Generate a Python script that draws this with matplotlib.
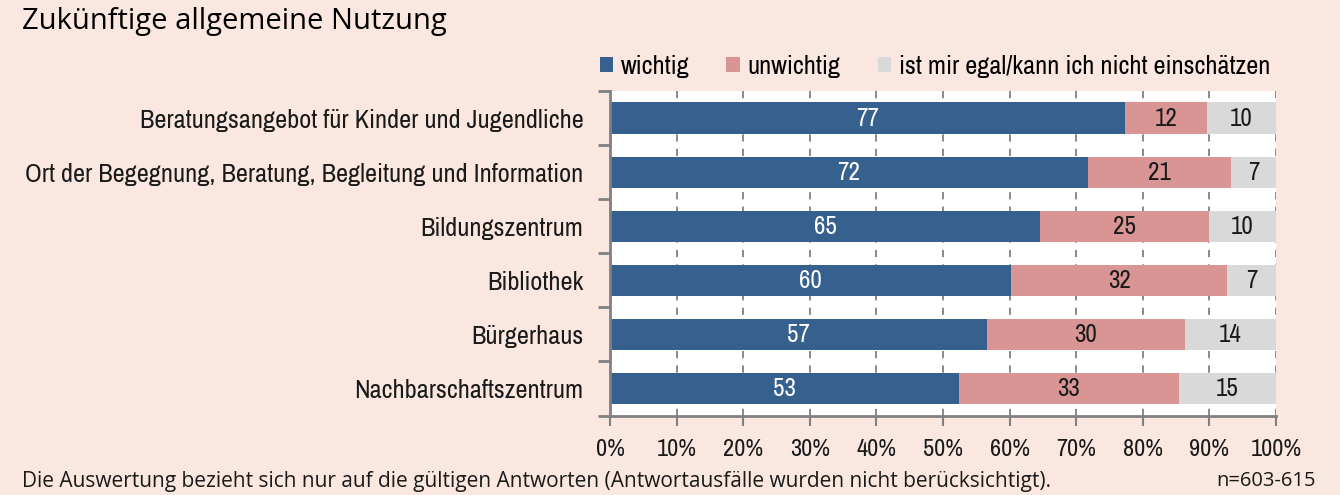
import matplotlib.pyplot as plt
from matplotlib import font_manager
import numpy as np

categories = [
    "Beratungsangebot für Kinder und Jugendliche",
    "Ort der Begegnung, Beratung, Begleitung und Information",
    "Bildungszentrum",
    "Bibliothek",
    "Bürgerhaus",
    "Nachbarschaftszentrum",
]
series_names = ["wichtig", "unwichtig", "ist mir egal/kann ich nicht einschätzen"]
# bar shares in percent
wichtig = [77.3, 71.8, 64.6, 60.2, 56.6, 52.4]
unwichtig = [12.3, 21.5, 25.3, 32.5, 29.7, 33.0]
egal = [10.4, 6.7, 10.1, 7.3, 13.7, 14.6]
# printed labels
wichtig_lbl = [77, 72, 65, 60, 57, 53]
unwichtig_lbl = [12, 21, 25, 32, 30, 33]
egal_lbl = [10, 7, 10, 7, 14, 15]
x_ticks = [0, 10, 20, 30, 40, 50, 60, 70, 80, 90, 100]

colors = ["#36618F", "#D99594", "#D9D9D9"]
bg = "#F9E7E0"

# look for a condensed face, the reference uses a narrow font
cond = [f for f in font_manager.fontManager.ttflist
        if ("Condensed" in f.name or "Narrow" in f.name) and f.style == "normal"]
dv_cond = [f for f in font_manager.fontManager.ttflist
           if f.name == "DejaVu Sans" and f.stretch == "condensed" and f.style == "normal"]
if cond:
    nfont = dict(family=[cond[0].name, "DejaVu Sans"])
    nsize = 19
elif dv_cond:
    nfont = dict(family=["DejaVu Sans"], stretch="condensed")
    nsize = 16
else:
    nfont = dict(family=["Roboto", "DejaVu Sans"])
    nsize = 15.5

fig = plt.figure(figsize=(13.4, 4.95), dpi=100, facecolor=bg)
ax = fig.add_axes([610 / 1340, 1 - 415.5 / 495, 666 / 1340, 324.5 / 495])
ax.set_facecolor("white")

y = np.arange(len(categories))
left = np.zeros(len(categories))
for vals, lbls, col, name in zip([wichtig, unwichtig, egal],
                                 [wichtig_lbl, unwichtig_lbl, egal_lbl],
                                 colors, series_names):
    vals = np.array(vals)
    ax.barh(y, vals, left=left, height=0.575, color=col, label=name, zorder=2)
    tcol = "white" if col == colors[0] else "#1a1a1a"
    for yi, l, v, t in zip(y, left, vals, lbls):
        ax.text(l + v / 2, yi, str(t), ha="center", va="center", color=tcol,
                fontsize=nsize - 1, zorder=3, **nfont)
    left = left + vals

ax.set_xlim(0, 100)
ax.set_ylim(5.5, -0.5)
ax.set_xticks(x_ticks)
ax.set_xticklabels([f"{t}%" for t in x_ticks], fontsize=nsize - 1.5, color="#1a1a1a", **nfont)
ax.xaxis.grid(True, linestyle=(0, (4, 4)), color="#808080", linewidth=1.3, zorder=0)
ax.set_axisbelow(True)

ax.set_yticks(np.arange(-0.5, 6, 1))
ax.set_yticklabels([])
ax.set_yticks(y, minor=True)
ax.set_yticklabels(categories, minor=True, fontsize=nsize, color="#1a1a1a", **nfont)
ax.tick_params(axis="y", which="minor", length=0, pad=19)
ax.tick_params(axis="y", which="major", length=9, width=2, color="#808080")
ax.tick_params(axis="x", length=7, width=1.5, color="#808080", pad=10)

for s in ["top", "right"]:
    ax.spines[s].set_visible(False)
for s in ["left", "bottom"]:
    ax.spines[s].set_color("#808080")
    ax.spines[s].set_linewidth(2)

fig.text(22 / 1340, 1 - 22 / 495, "Zukünftige allgemeine Nutzung", fontsize=21,
         family=["Open Sans", "DejaVu Sans"], va="center", ha="left", color="black")

leg_prop = {"size": nsize}
leg_prop.update(nfont)
leg = fig.legend(loc="center right", bbox_to_anchor=(1270 / 1340, 1 - 66 / 495), ncol=3,
                 frameon=False, handlelength=0.5, handleheight=0.5, handletextpad=0.3,
                 columnspacing=1.4, borderaxespad=0, borderpad=0, prop=leg_prop)

fig.text(22 / 1340, 1 - 481 / 495,
         "Die Auswertung bezieht sich nur auf die gültigen Antworten (Antwortausfälle wurden nicht berücksichtigt).",
         fontsize=15, family=["Open Sans", "DejaVu Sans"], va="center", ha="left", color="#1a1a1a")
fig.text(1316 / 1340, 1 - 481 / 495, "n=603-615", fontsize=14.5,
         family=["Open Sans", "DejaVu Sans"], va="center", ha="right", color="#1a1a1a")

fig.savefig("out.png", dpi=100, facecolor=bg)
